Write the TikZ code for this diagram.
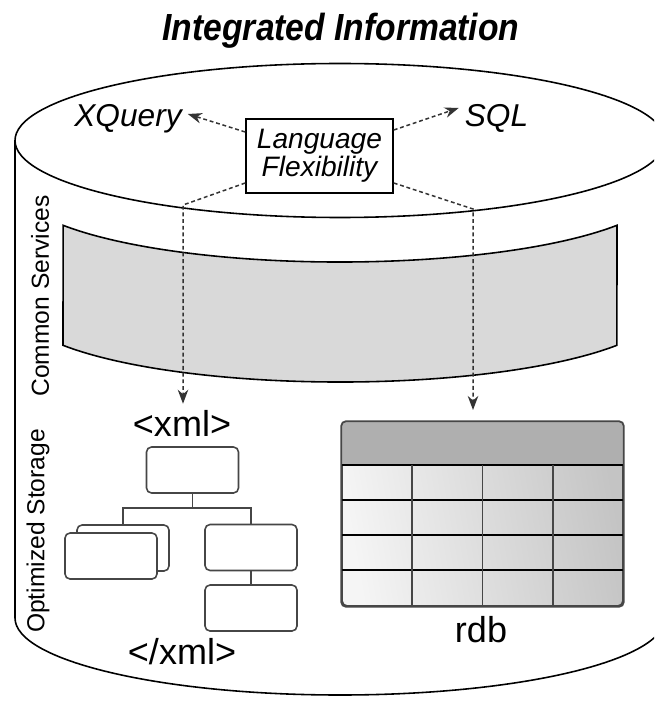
\documentclass[tikz,border=0pt]{standalone}
\usepackage{fontspec}
\setmainfont{Liberation Sans}
\newfontfamily\titlefont{Liberation Sans}[FakeStretch=0.89]
\usetikzlibrary{arrows.meta,positioning}
\definecolor{bandgray}{RGB}{217,217,217}
\definecolor{headgray}{RGB}{175,175,175}
\definecolor{linegray}{RGB}{70,70,70}
\definecolor{cellgray}{RGB}{196,196,196}

\begin{document}
\begin{tikzpicture}[x=0.02cm,y=-0.02cm,
  rim/.style={draw=black,line width=0.9pt},
  flow/.style={draw=black!80,line width=0.85pt,dash pattern=on 2.2pt off 1.6pt,
    -{Stealth[length=8pt,width=6pt]}},
  ital/.style={font=\fontsize{16}{16}\selectfont\itshape},
  plain/.style={font=\fontsize{20.5}{22}\selectfont},
  side/.style={font=\fontsize{14}{16}\selectfont,rotate=90},
  leaf/.style={draw=linegray,line width=0.9pt,fill=white,rounded corners=0.1cm,
    minimum width=1.84cm,minimum height=0.92cm,inner sep=0pt},
  tree/.style={draw=linegray,line width=0.9pt}]
  \useasboundingbox (0,0) rectangle (654,702);
  \clip (0,0) rectangle (654,702);

  % cylinder:
  \draw[rim,fill=white] (15,140.5) -- (15,618)
     arc[start angle=180,end angle=0,x radius=325,y radius=77] -- (665,140.5);
  \draw[rim,fill=white] (340,140.5) ellipse[x radius=325,y radius=77];

  % common services band:
  \draw[rim,fill=bandgray] (617,225.3)
     arc[start angle=31.55,end angle=148.45,x radius=325,y radius=77] -- (63,345.3)
     arc[start angle=148.45,end angle=31.55,x radius=325,y radius=77] -- cycle;

  \node[font=\fontsize{21.5}{24}\titlefont\bfseries\itshape] (title) at (341,31) {Integrated Information};

  \node[side] (cs) at (40,296) {Common Services};
  \node[side] (os) at (38,531) {Optimized Storage};

  \node[draw,line width=0.9pt,fill=white,minimum width=2.94cm,minimum height=1.48cm,
    align=center,inner sep=0pt,ital] (lf) at (319.5,156) {Language\\Flexibility};
  \node[ital,font=\fontsize{18}{18}\selectfont\itshape] (xq) at (128,119) {XQuery};
  \node[ital,font=\fontsize{18}{18}\selectfont\itshape] (sql) at (496.5,118) {SQL};

  \node[plain] (xml) at (182,423) {<xml>};
  \node[plain] (xmlend) at (182,652) {</xml>};

  % xml tree:
  \node[leaf] (t1) at (192.5,470) {};
  \node[leaf] (t2b) at (123,548) {};
  \node[leaf] (t2) at (111,556) {};
  \node[leaf] (t3) at (251,547.5) {};
  \node[leaf] (t4) at (251,608) {};
  \draw[tree] (t1.south) -- ++(0,14) -| (t2b.north);
  \draw[tree] (t1.south) -- ++(0,14) -| (t3.north);
  \draw[tree] (t3) -- (t4);

  % rdb table:
  \node[draw=linegray,line width=1pt,rounded corners=0.1cm,left color=white!96!black,
    right color=cellgray,shading angle=100,minimum width=5.62cm,minimum height=3.68cm] (tbl) at (482.5,514) {};
  \fill[headgray] (tbl.west |- 0,465) [rounded corners=0.1cm] -- (tbl.north west)
     -- (tbl.north east) [sharp corners] -- (tbl.east |- 0,465) -- cycle;
  \foreach \y in {465,500,535,570}
     \draw[line width=0.9pt] (tbl.west |- 0,\y) -- (tbl.east |- 0,\y);
  \foreach \x in {412,482.5,553}
     \draw[draw=linegray,line width=1.1pt] (\x,465) -- (\x,606);
  \draw[draw=linegray,line width=1pt,rounded corners=0.1cm] (tbl.north west) rectangle (tbl.south east);
  \node[plain] (rdb) at (481,630) {rdb};

  % flexibility arrows:
  \coordinate (kl) at (183,205);
  \coordinate (kr) at (473,209);
  \coordinate (rt) at (473,410);
  \draw[flow] ([yshift=0.48cm]lf.west) -- ([yshift=0.1cm]xq.east);
  \draw[flow] ([yshift=0.52cm]lf.east) -- ([yshift=0.2cm]sql.west);
  \draw[flow] ([yshift=-0.54cm]lf.west) -- (kl) -- (kl |- xml.north);
  \draw[flow] ([yshift=-0.54cm]lf.east) -- (kr) -- (rt);
\end{tikzpicture}
\end{document}
